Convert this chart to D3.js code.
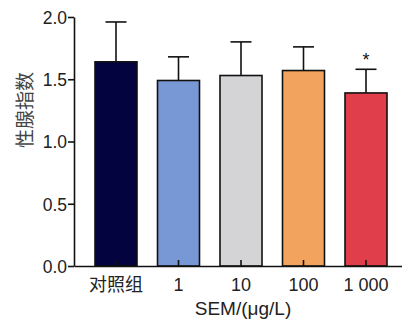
<!DOCTYPE html>
<html>
<head>
<meta charset="utf-8">
<script src="https://cdn.jsdelivr.net/npm/d3@7"></script>
<style>
  body { margin: 0; background: #fff; }
  svg { display: block; }
</style>
</head>
<body>
<svg id="chart" width="402" height="320"></svg>
<script>
// gonad index by SEM concentration, mean ± SD
const categories = ['对照组', '1', '10', '100', '1 000'];
const means = [1.64, 1.49, 1.53, 1.57, 1.39];
const errors = [0.32, 0.19, 0.27, 0.19, 0.19];
const signif = ['', '', '', '', '*'];
const colors = ['#03033f', '#7898d5', '#d4d4d6', '#f2a35d', '#e03e4a'];
const yTicks = [0, 0.5, 1.0, 1.5, 2.0];

const svg = d3.select('#chart');
const x = d3.scaleBand().domain(categories).range([74, 408])
  .paddingInner(0.328).paddingOuter(0.336);
const y = d3.scaleLinear().domain([0, 2]).range([266, 17]);

const rows = categories.map((c, i) => ({ c, m: means[i], e: errors[i], s: signif[i], col: colors[i] }));

// bars
svg.selectAll('rect.bar').data(rows).enter().append('rect')
  .attr('x', d => x(d.c)).attr('y', d => y(d.m))
  .attr('width', x.bandwidth()).attr('height', d => y(0) - y(d.m))
  .attr('fill', d => d.col).attr('stroke', '#111').attr('stroke-width', 1.6);

// error bars (upper only)
const cap = 10.5;
svg.selectAll('g.err').data(rows).enter().append('g').each(function (d) {
  const g_ = d3.select(this), cx = x(d.c) + x.bandwidth() / 2;
  g_.append('line').attr('x1', cx).attr('x2', cx).attr('y1', y(d.m)).attr('y2', y(d.m + d.e))
    .attr('stroke', '#111').attr('stroke-width', 1.6);
  g_.append('line').attr('x1', cx - cap).attr('x2', cx + cap).attr('y1', y(d.m + d.e)).attr('y2', y(d.m + d.e))
    .attr('stroke', '#111').attr('stroke-width', 1.6);
  if (d.s) g_.append('text').attr('x', cx).attr('y', y(d.m + d.e) - 3)
    .attr('text-anchor', 'middle').attr('font-family', 'Liberation Sans, Arial, sans-serif')
    .attr('font-size', 18).attr('fill', '#111').text(d.s);
});

// axes
const yAxis = svg.append('g').attr('transform', 'translate(74,0)')
  .call(d3.axisLeft(y).tickValues(yTicks).tickFormat(d3.format('.1f')).tickSize(6).tickSizeOuter(0));
const xAxis = svg.append('g').attr('transform', 'translate(0,266)')
  .call(d3.axisBottom(x).tickSizeInner(-6).tickSizeOuter(0).tickPadding(12));
[yAxis, xAxis].forEach(a => {
  a.selectAll('path, line').attr('stroke', '#111').attr('stroke-width', 1.6);
  a.selectAll('text').attr('font-family', 'Liberation Sans, Arial, sans-serif').attr('fill', '#222');
});
yAxis.selectAll('text').attr('font-size', 17.5).attr('dy', '0.36em').attr('x', -7);
xAxis.selectAll('text').attr('font-size', 18)
  .attr('font-family', '"Liberation Sans", "Noto Sans CJK SC", sans-serif');

// titles
svg.append('text').attr('x', 243).attr('y', 315).attr('text-anchor', 'middle')
  .attr('font-family', 'Liberation Sans, Arial, sans-serif').attr('font-size', 19).attr('fill', '#222')
  .text('SEM/(μg/L)');
svg.append('text').attr('transform', 'translate(32,110) rotate(-90)').attr('text-anchor', 'middle')
  .attr('font-family', '"Noto Sans CJK SC", sans-serif').attr('font-size', 19).attr('fill', '#444')
  .text('性腺指数');
</script>
</body>
</html>
